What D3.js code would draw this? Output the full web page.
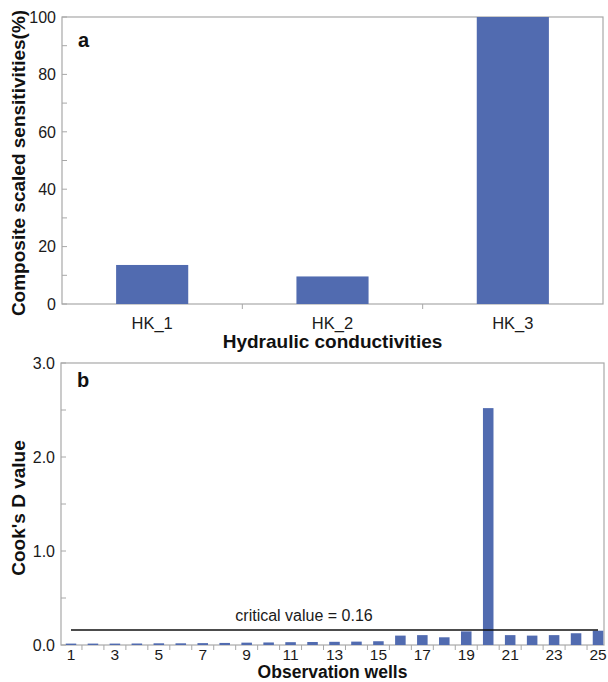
<!DOCTYPE html>
<html><head><meta charset="utf-8">
<script src="https://cdn.jsdelivr.net/npm/d3@7"></script>
<style>body{margin:0;background:#fff}svg{display:block;font-family:"Liberation Sans",Arial,sans-serif}</style>
</head><body><svg id="c" width="608" height="682"></svg>
<script>
const hkCategories = ["HK_1","HK_2","HK_3"];
const hkValues = [13.6, 9.6, 100];
const hkTicks = [0,20,40,60,80,100];
const hkMinorTicks = [10,30,50,70,90];

const wells = d3.range(1,26);
const cooksD = [0.015,0.015,0.015,0.016,0.018,0.018,0.02,0.022,0.025,0.027,0.03,0.032,0.034,0.036,0.04,0.1,0.105,0.082,0.145,2.52,0.105,0.1,0.105,0.125,0.152];
const cookTicks = [0,1,2,3];
const cookMinorTicks = [0.5,1.5,2.5];
const wellLabels = [1,3,5,7,9,11,13,15,17,19,21,23,25];
const criticalValue = 0.16;

const BAR = "#516bb0", AX = "#a8a8a8", TXT = "#1a1a1a";
const svg = d3.select("#c");

function panel(o){
  const g = svg.append("g");
  const x = d3.scaleBand().domain(o.cats).range([o.bx0,o.bx1]);
  const y = d3.scaleLinear().domain(o.ydom).range([o.y1,o.y0]);
  const bw = x.bandwidth()*o.barFrac;
  g.append("rect").attr("x",o.x0).attr("y",o.y0).attr("width",o.x1-o.x0).attr("height",o.y1-o.y0)
    .attr("fill","none").attr("stroke",AX).attr("stroke-width",1.2);
  g.selectAll("rect.bar").data(o.vals).join("rect").attr("class","bar")
    .attr("x",(d,i)=>x(o.cats[i])+x.bandwidth()/2-bw/2).attr("width",bw)
    .attr("y",d=>y(d)).attr("height",d=>y(0)-y(d)).attr("fill",BAR);
  g.selectAll("line.yt").data(o.yticks.concat(o.yminor)).join("line")
    .attr("x1",o.x0).attr("x2",o.x0+5).attr("y1",d=>y(d)).attr("y2",d=>y(d)).attr("stroke",AX);
  g.selectAll("text.yl").data(o.yticks).join("text")
    .attr("x",o.x0-6).attr("y",d=>y(d)).attr("dy","0.36em").attr("text-anchor","end")
    .attr("font-size",16).attr("fill",TXT).text(o.yfmt);
  const bounds = o.cats.slice(1).map(c=>x(c)).filter(v=>v<o.x1);
  g.selectAll("line.xt").data(bounds).join("line")
    .attr("x1",d=>d).attr("x2",d=>d).attr("y1",o.y1).attr("y2",o.y1+5).attr("stroke",AX);
  g.selectAll("text.xl").data(o.xlabels).join("text")
    .attr("x",d=>x(d)+x.bandwidth()/2).attr("y",o.y1+o.xlOff).attr("dy","0.36em").attr("text-anchor","middle")
    .attr("font-size",o.xlSize).attr("fill",TXT).text(d=>d);
  g.append("text").attr("x",(o.x0+o.x1)/2).attr("y",o.y1+o.xtOff).attr("text-anchor","middle")
    .attr("font-size",o.xtSize).attr("font-weight","bold").attr("fill","#111").text(o.xtitle);
  g.append("text").attr("transform",`translate(${o.ytx},${o.ytc}) rotate(-90)`)
    .attr("text-anchor","middle").attr("font-size",19).attr("font-weight","bold").attr("fill","#111").text(o.ytitle);
  g.append("text").attr("x",o.x0+16).attr("y",o.y0+o.letOff).attr("font-size",20).attr("font-weight","bold")
    .attr("fill","#111").text(o.letter);
  return {x,y,g};
}

panel({cats:hkCategories, vals:hkValues, x0:62, x1:603, bx0:62, bx1:603, y0:17, y1:304, ydom:[0,100],
  yticks:hkTicks, yminor:hkMinorTicks, yfmt:d=>d, xlabels:hkCategories, barFrac:0.4, xlOff:19, xtOff:44,
  xlSize:16.5, xtSize:19,
  xtitle:"Hydraulic conductivities", ytitle:"Composite scaled sensitivities(%)", ytx:25, ytc:163, letter:"a", letOff:30});

const pb = panel({cats:wells, vals:cooksD, x0:61, x1:604, bx0:60, bx1:609, y0:363, y1:645, ydom:[0,3],
  yticks:cookTicks, yminor:cookMinorTicks, yfmt:d=>d3.format(".1f")(d), xlabels:wellLabels, barFrac:0.48, xlOff:9, xtOff:33.2,
  xlSize:15.5, xtSize:17.5,
  xtitle:"Observation wells", ytitle:"Cook's D value", ytx:25, ytc:508, letter:"b", letOff:24});

const cy = pb.y(criticalValue);
pb.g.append("line").attr("x1",pb.x(1)+pb.x.bandwidth()/2).attr("x2",pb.x(25)+pb.x.bandwidth()/2)
  .attr("y1",cy).attr("y2",cy).attr("stroke","#111").attr("stroke-width",1.5);
pb.g.append("text").attr("x",304).attr("y",cy-9).attr("text-anchor","middle").attr("font-size",16)
  .attr("fill",TXT).text("critical value = 0.16");
</script></body></html>
